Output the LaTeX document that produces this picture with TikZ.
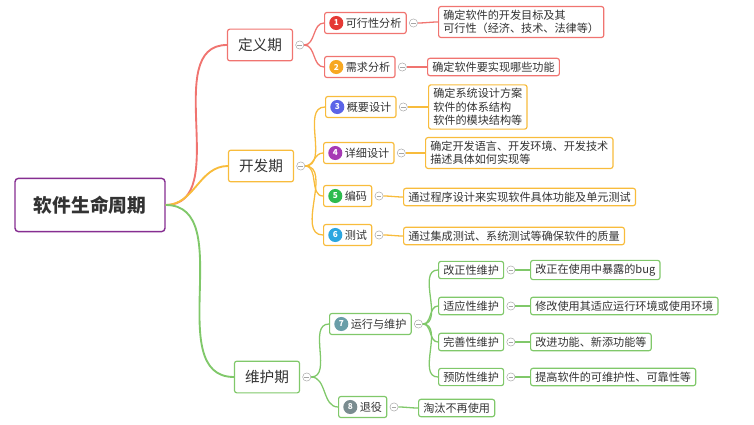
\documentclass[tikz,border=0pt]{standalone}
\usepackage{fontspec}
\setmainfont{Noto Sans CJK SC}
\usetikzlibrary{positioning}
\definecolor{redline}{HTML}{F07470}
\definecolor{orangeline}{HTML}{F8BC3C}
\definecolor{greenline}{HTML}{80C86A}
\definecolor{bRed}{HTML}{E53935}
\definecolor{bOrange}{HTML}{F7A823}
\definecolor{bBlue}{HTML}{5B64E8}
\definecolor{bPurple}{HTML}{A73AB5}
\definecolor{bGreen}{HTML}{2DBB4E}
\definecolor{bCyan}{HTML}{2BA6E0}
\definecolor{bTeal}{HTML}{6A9EA8}
\definecolor{bGrey}{HTML}{7A8C90}
\newcommand\badge[2]{\tikz[baseline=-0.75ex]\node[circle,fill=#1,text=white,inner sep=0pt,minimum size=12pt,font=\fontsize{7}{7}\selectfont\bfseries]{#2};\ }
\begin{document}
\begin{tikzpicture}[
    x=0.03cm, y=-0.03cm,
    every node/.style={font=\fontsize{9.5}{11.5}\selectfont, text=black!80},
    box/.style={draw=#1, line width=1pt, rounded corners=2pt, fill=white, inner xsep=4pt, inner ysep=3pt, align=left, anchor=west},
    phase/.style={box=#1, anchor=center, font=\fontsize{12.5}{14}\selectfont, minimum height=0.95cm, minimum width=1.95cm},
    fold/.style={circle, draw=gray!70, fill=white, inner sep=0pt, minimum size=7pt, right=2pt of #1, path picture={\draw[gray!70] ([xshift=-2pt]path picture bounding box.center) -- ([xshift=2pt]path picture bounding box.center);}},
    link/.style={draw=#1, line width=1.1pt, out=0, in=180}
]
    \useasboundingbox (0,0) rectangle (754,425);
    % Root
    \node[draw=bPurple!80!black, line width=1.2pt, rounded corners=3pt, fill=white, minimum width=4.5cm, minimum height=1.6cm, font=\fontsize{16}{18}\selectfont\bfseries] (root) at (90,205) {软件生命周期};

    % Phases
    \node[phase=redline] (def) at (260,45) {定义期};
    \node[phase=orangeline] (dev) at (261,166) {开发期};
    \node[phase=greenline] (mnt) at (267,377) {维护期};
    \draw[link=redline, line width=1.6pt] (root.east) to (def.west);
    \draw[link=orangeline, line width=1.6pt] (root.east) to (dev.west);
    \draw[link=greenline, line width=1.6pt] (root.east) to (mnt.west);
    \node[fold=def] (fdef) {};
    \node[fold=dev] (fdev) {};
    \node[fold=mnt] (fmnt) {};

    % Definition
    \node[box=redline] (feas) at (324,23) {\badge{bRed}{1}可行性分析};
    \node[box=redline] (req) at (324,67) {\badge{bOrange}{2}需求分析};
    \node[box=redline] (feasd) at (438,22) {确定软件的开发目标及其\\可行性（经济、技术、法律等）};
    \node[box=redline] (reqd) at (427,67) {确定软件要实现哪些功能};
    \draw[link=redline] (fdef) to (feas.west);
    \draw[link=redline] (fdef) to (req.west);
    \node[fold=feas] (ffeas) {};
    \node[fold=req] (freq) {};
    \draw[link=redline] (ffeas) to (feasd.west);
    \draw[link=redline] (freq) to (reqd.west);

    % Development
    \node[box=orangeline] (arch) at (325,107) {\badge{bBlue}{3}概要设计};
    \node[box=orangeline] (detl) at (323,153) {\badge{bPurple}{4}详细设计};
    \node[box=orangeline] (code) at (323,196) {\badge{bGreen}{5}编码};
    \node[box=orangeline] (test) at (323,235) {\badge{bCyan}{6}测试};
    \node[box=orangeline] (archd) at (428,107) {确定系统设计方案\\软件的体系结构\\软件的模块结构等};
    \node[box=orangeline] (detld) at (425,153) {确定开发语言、开发环境、开发技术\\描述具体如何实现等};
    \node[box=orangeline] (coded) at (403,197) {通过程序设计来实现软件具体功能及单元测试};
    \node[box=orangeline] (testd) at (403,236) {通过集成测试、系统测试等确保软件的质量};
    \foreach \n in {arch,detl,code,test} {
        \draw[link=orangeline] (fdev) to (\n.west);
        \node[fold=\n] (f\n) {};
        \draw[link=orangeline] (f\n) to (\n d.west);
    }

    % Maintenance
    \node[box=greenline] (run) at (329,324) {\badge{bTeal}{7}运行与维护};
    \node[box=greenline] (retire) at (338,407) {\badge{bGrey}{8}退役};
    \draw[link=greenline] (fmnt) to (run.west);
    \draw[link=greenline] (fmnt) to (retire.west);
    \node[fold=run] (frun) {};
    \node[fold=retire] (fretire) {};
    \node[box=greenline] (retired) at (418,408) {淘汰不再使用};
    \draw[link=greenline] (fretire) to (retired.west);
    \foreach \n/\y/\t/\d in {corr/270/改正性维护/改正在使用中暴露的bug,
                             adap/306/适应性维护/修改使用其适应运行环境或使用环境,
                             perf/342/完善性维护/改进功能、新添功能等,
                             prev/377/预防性维护/提高软件的可维护性、可靠性等} {
        \node[box=greenline] (\n) at (438,\y) {\t};
        \node[box=greenline] (\n d) at (530,\y) {\d};
        \node[fold=\n] (f\n) {};
        \draw[link=greenline] (frun) to (\n.west);
        \draw[link=greenline] (f\n) to (\n d.west);
    }
\end{tikzpicture}
\end{document}
